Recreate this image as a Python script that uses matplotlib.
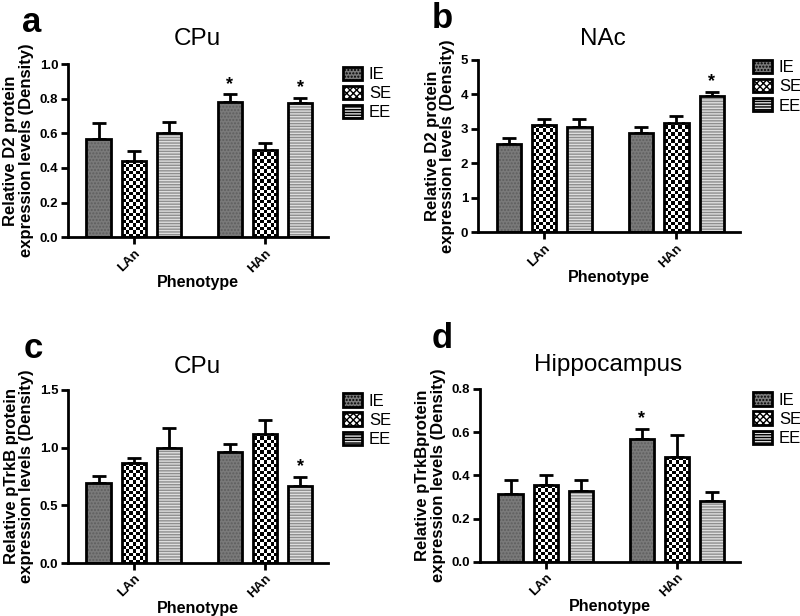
import matplotlib
matplotlib.use("Agg")
import matplotlib.pyplot as plt
import matplotlib.patches as mpatches
import numpy as np

plt.rcParams['font.family'] = ['Liberation Sans', 'DejaVu Sans']
plt.rcParams['hatch.linewidth'] = 1.0

groups = ["LAn", "HAn"]
series = ["IE", "SE", "EE"]

a_means = {"IE": [0.565, 0.78], "SE": [0.44, 0.505], "EE": [0.60, 0.775]}
a_errs = {"IE": [0.095, 0.045], "SE": [0.06, 0.04], "EE": [0.065, 0.03]}
a_star = {"IE": [False, True], "SE": [False, False], "EE": [False, True]}

b_means = {"IE": [2.55, 2.88], "SE": [3.10, 3.18], "EE": [3.05, 3.95]}
b_errs = {"IE": [0.20, 0.17], "SE": [0.18, 0.20], "EE": [0.25, 0.12]}
b_star = {"IE": [False, False], "SE": [False, False], "EE": [False, True]}

c_means = {"IE": [0.69, 0.965], "SE": [0.865, 1.12], "EE": [1.00, 0.665]}
c_errs = {"IE": [0.06, 0.065], "SE": [0.045, 0.12], "EE": [0.17, 0.08]}
c_star = {"IE": [False, False], "SE": [False, False], "EE": [False, True]}

d_means = {"IE": [0.315, 0.57], "SE": [0.355, 0.485], "EE": [0.33, 0.28]}
d_errs = {"IE": [0.065, 0.045], "SE": [0.045, 0.10], "EE": [0.05, 0.045]}
d_star = {"IE": [False, True], "SE": [False, False], "EE": [False, False]}

styles = {
    "IE": dict(face="#7a7a7a", hatch=".....", hc="#5e5e5e"),
    "SE": dict(face="#ffffff", hatch="xxxxx", hc="#111111"),
    "EE": dict(face="#dedede", hatch="------", hc="#8e8e8e"),
}

fig = plt.figure(figsize=(8, 6.16), dpi=100)

panels = [
    dict(rect=[0.085, 0.615, 0.325, 0.281], means=a_means, errs=a_errs, star=a_star,
         ylim=(0, 1.0), yticks=[0, 0.2, 0.4, 0.6, 0.8, 1.0], fmt="{:.1f}",
         ylabel="Relative D2 protein\nexpression levels (Density)",
         title="CPu", tpos=(197, 45), letter="a", lpos=(22, 32), leg=(1.058, 0.985)),
    dict(rect=[0.5975, 0.623, 0.3275, 0.2796], means=b_means, errs=b_errs, star=b_star,
         ylim=(0, 5), yticks=[0, 1, 2, 3, 4, 5], fmt="{:.0f}",
         ylabel="Relative D2 protein\nexpression levels (Density)",
         title="NAc", tpos=(603, 45), letter="b", lpos=(432, 28), leg=(1.05, 1.0)),
    dict(rect=[0.085, 0.086, 0.325, 0.281], means=c_means, errs=c_errs, star=c_star,
         ylim=(0, 1.5), yticks=[0, 0.5, 1.0, 1.5], fmt="{:.1f}",
         ylabel="Relative pTrkB protein\nexpression levels (Density)",
         title="CPu", tpos=(197, 373), letter="c", lpos=(24, 358), leg=(1.058, 0.98)),
    dict(rect=[0.6, 0.0877, 0.325, 0.281], means=d_means, errs=d_errs, star=d_star,
         ylim=(0, 0.8), yticks=[0, 0.2, 0.4, 0.6, 0.8], fmt="{:.1f}",
         ylabel="Relative pTrkBprotein\nexpression levels (Density)",
         title="Hippocampus", tpos=(608, 371), letter="d", lpos=(432, 348), leg=(1.05, 0.98)),
]

W, H = 800, 616
offsets = {"IE": -0.267, "SE": 0.0, "EE": 0.267}
width = 0.185
gx = np.arange(len(groups))
XLIM = (-0.5, 1.48)


def checker_fill(ax, rect_patch, cell_px=3.4):
    x0 = rect_patch.get_x()
    x1 = x0 + rect_patch.get_width()
    y0 = rect_patch.get_y()
    y1 = y0 + rect_patch.get_height()
    p0 = ax.transData.transform((x0, y0))
    p1 = ax.transData.transform((x1, y1))
    nx = max(1, int(round(abs(p1[0] - p0[0]) / cell_px)))
    ny = max(1, int(round(abs(p1[1] - p0[1]) / cell_px)))
    arr = np.add.outer(np.arange(ny), np.arange(nx)) % 2
    ax.imshow(arr, cmap="gray", vmin=0, vmax=1, extent=[x0, x1, y0, y1], origin="lower",
              interpolation="nearest", aspect="auto", zorder=2)


for p in panels:
    ax = fig.add_axes(p["rect"])
    top = p["ylim"][1]
    ax.set_xlim(*XLIM)
    ax.set_ylim(*p["ylim"])
    for s in series:
        x = gx + offsets[s]
        m = np.array(p["means"][s])
        e = np.array(p["errs"][s])
        st = styles[s]
        if s == "SE":
            bars = ax.bar(x, m, width, color="white", linewidth=0, zorder=1.5)
            for bp in bars.patches:
                checker_fill(ax, bp)
        else:
            ax.bar(x, m, width, color=st["face"], hatch=st["hatch"], edgecolor=st["hc"],
                   linewidth=0, zorder=2)
        ax.bar(x, m, width, facecolor="none", edgecolor="black", linewidth=2.0, zorder=3)
        ax.errorbar(x, m, yerr=[np.zeros_like(e), e], fmt="none", ecolor="black",
                    elinewidth=2.0, capsize=4.7, capthick=2.0, zorder=1)
        for xi, mi, ei, flag in zip(x, m, e, p["star"][s]):
            if flag:
                ax.text(xi, mi + ei + top * 0.01, "*", ha="center", va="bottom",
                        fontsize=13, fontweight="bold")
    ax.set_xlim(*XLIM)
    ax.set_ylim(*p["ylim"])
    ax.set_yticks(p["yticks"])
    ax.set_yticklabels([p["fmt"].format(t) for t in p["yticks"]], fontsize=9.5, fontweight="bold")
    ax.set_xticks(gx)
    ax.set_xticklabels(groups, rotation=45, ha="right", va="top", rotation_mode="anchor",
                       fontsize=9.5, fontweight="bold")
    for sp in ["top", "right"]:
        ax.spines[sp].set_visible(False)
    for sp in ["left", "bottom"]:
        ax.spines[sp].set_linewidth(2.0)
    ax.tick_params(axis="both", direction="out", width=2.0, length=5, pad=2)
    ax.set_ylabel(p["ylabel"], fontsize=12, fontweight="bold", labelpad=4, linespacing=1.05)
    ax.set_xlabel("Phenotype", fontsize=11.5, fontweight="bold", labelpad=0)
    handles = [mpatches.Patch(facecolor=styles[s]["face"], hatch=styles[s]["hatch"],
                              edgecolor="black", linewidth=2.0, label=s) for s in series]
    ax.legend(handles=handles, loc="upper left", bbox_to_anchor=p["leg"], frameon=False,
              fontsize=12, handlelength=1.15, handleheight=0.85, handletextpad=0.4,
              labelspacing=0.22, borderaxespad=0, borderpad=0)
    fig.text(p["tpos"][0] / W, 1 - p["tpos"][1] / H, p["title"], ha="center", va="baseline",
             fontsize=17.5)
    fig.text(p["lpos"][0] / W, 1 - p["lpos"][1] / H, p["letter"], ha="left", va="baseline",
             fontsize=25, fontweight="bold")

fig.savefig("out.png", dpi=100)
